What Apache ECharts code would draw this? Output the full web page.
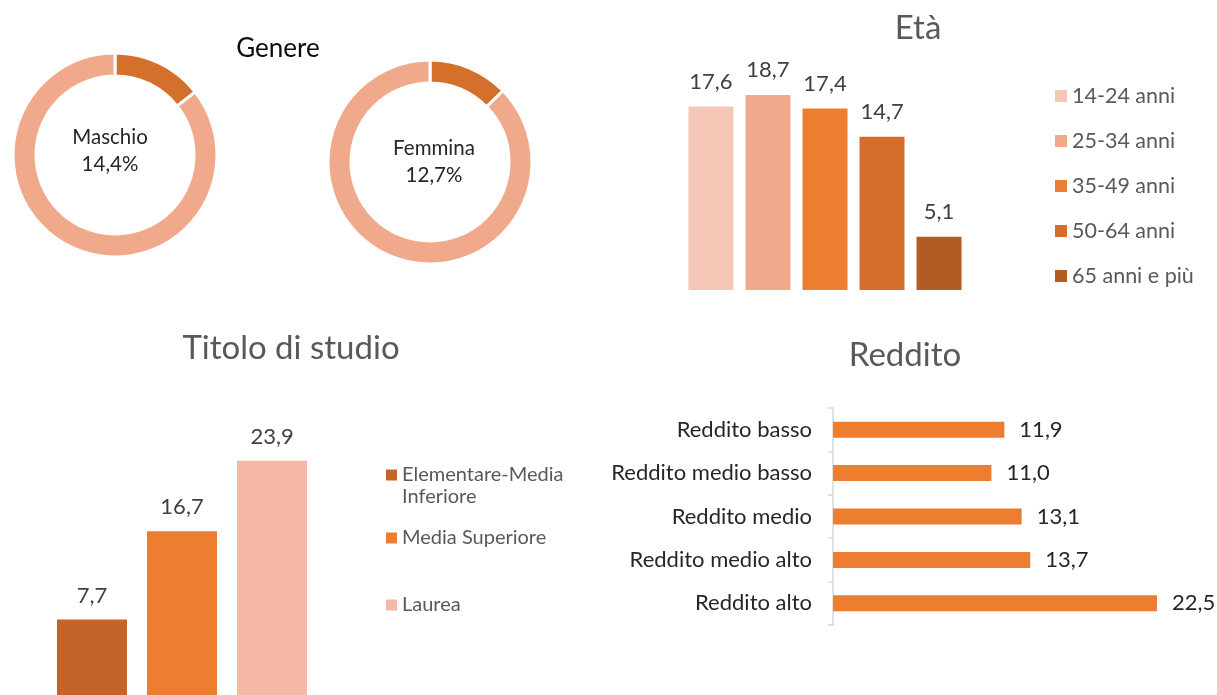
<!DOCTYPE html>
<html>
<head>
<meta charset="utf-8">
<script src="https://cdn.jsdelivr.net/npm/echarts@6/dist/echarts.min.js"></script>
<style>
  html, body { margin: 0; padding: 0; background: #fff; }
  #chart { width: 1217px; height: 695px; }
</style>
</head>
<body>
<div id="chart"></div>
<script>
// Genere
var genereNames = ['Maschio', 'Femmina'];
var genereValues = [14.4, 12.7];

// Età
var etaNames = ['14-24 anni', '25-34 anni', '35-49 anni', '50-64 anni', '65 anni e più'];
var etaValues = [17.6, 18.7, 17.4, 14.7, 5.1];
var etaColors = ['#F5C7B7', '#F1A98B', '#ED7D31', '#D46E2C', '#B25B22'];

// Titolo di studio
var studioNames = ['Elementare-Media Inferiore', 'Media Superiore', 'Laurea'];
var studioValues = [7.7, 16.7, 23.9];
var studioColors = ['#C46428', '#ED7D31', '#F4B8A4'];

// Reddito
var redditoNames = ['Reddito basso', 'Reddito medio basso', 'Reddito medio', 'Reddito medio alto', 'Reddito alto'];
var redditoValues = [11.9, 11.0, 13.1, 13.7, 22.5];

var FONT = 'Lato';
var labelColor = '#404040';
var titleColor = '#595959';

function fmt(v) {
    return v.toFixed(1).replace('.', ',');
}

var chart = echarts.init(document.getElementById('chart'));

var series = [];

// donuts
var donutCenters = [[115, 155], [430, 162]];
var donutLabelOffsets = [[-5, -4], [4, 0]];
genereNames.forEach(function (name, i) {
    series.push({
        type: 'pie',
        center: donutCenters[i],
        radius: [79, 102],
        startAngle: 90,
        clockwise: true,
        silent: true,
        itemStyle: { borderColor: '#fff', borderWidth: 3 },
        labelLine: { show: false },
        data: [
            {
                name: name, value: genereValues[i],
                itemStyle: { color: '#D4702C' },
                label: {
                    show: true, position: 'center',
                    formatter: function (p) { return p.name + '\n' + fmt(p.value) + '%'; },
                    fontFamily: FONT, fontSize: 20.5, lineHeight: 27, color: '#262626',
                    offset: donutLabelOffsets[i]
                }
            },
            {
                name: '', value: +(100 - genereValues[i]).toFixed(1),
                itemStyle: { color: '#F0A98A' },
                label: { show: false }
            }
        ]
    });
});

// Età bars
etaNames.forEach(function (name, i) {
    series.push({
        type: 'bar',
        name: name,
        xAxisIndex: 0, yAxisIndex: 0,
        barWidth: 45,
        barGap: '26.7%',
        itemStyle: { color: etaColors[i] },
        label: {
            show: true, position: 'top', distance: 14,
            formatter: function (p) { return fmt(p.value); },
            fontFamily: FONT, fontSize: 22, color: labelColor
        },
        data: [etaValues[i]]
    });
});

// Titolo di studio bars
studioNames.forEach(function (name, i) {
    series.push({
        type: 'bar',
        name: name,
        xAxisIndex: 1, yAxisIndex: 1,
        barWidth: 70,
        barGap: '28.6%',
        itemStyle: { color: studioColors[i] },
        label: {
            show: true, position: 'top', distance: 13,
            formatter: function (p) { return fmt(p.value); },
            fontFamily: FONT, fontSize: 22, color: labelColor
        },
        data: [studioValues[i]]
    });
});

// Reddito bars
series.push({
    type: 'bar',
    xAxisIndex: 2, yAxisIndex: 2,
    barWidth: 16,
    itemStyle: { color: '#ED7D31' },
    label: {
        show: true, position: 'right', distance: 15,
        formatter: function (p) { return fmt(p.value); },
        fontFamily: FONT, fontSize: 22, color: '#262626'
    },
    data: redditoValues
});

var titleStyle = { fontFamily: FONT, fontSize: 33, fontWeight: 'normal', color: titleColor };
var studioLegendText = { fontFamily: FONT, fontSize: 20, lineHeight: 24, color: titleColor };

var option = {
    backgroundColor: '#fff',
    animation: false,
    title: [
        { text: 'Genere', left: 278, top: 49, padding: 0, textAlign: 'center', textVerticalAlign: 'middle',
          textStyle: { fontFamily: FONT, fontSize: 26, fontWeight: 'normal', color: '#0d0d0d' } },
        { text: 'Età', left: 918, top: 28, padding: 0, textAlign: 'center', textVerticalAlign: 'middle',
          textStyle: titleStyle },
        { text: 'Titolo di studio', left: 291, top: 348, padding: 0, textAlign: 'center', textVerticalAlign: 'middle',
          textStyle: titleStyle },
        { text: 'Reddito', left: 905, top: 355, padding: 0, textAlign: 'center', textVerticalAlign: 'middle',
          textStyle: titleStyle },
        // second line of the first "Titolo di studio" legend entry
        { text: 'Inferiore', left: 402, top: 497, padding: 0, textVerticalAlign: 'middle',
          textStyle: { fontFamily: FONT, fontSize: 20, fontWeight: 'normal', color: titleColor } }
    ],
    legend: [
        {
            data: etaNames, orient: 'vertical', left: 1055, top: 85, padding: 0,
            icon: 'rect', itemWidth: 12, itemHeight: 12, itemGap: 23,
            selectedMode: false,
            textStyle: { fontFamily: FONT, fontSize: 21.5, lineHeight: 22, color: titleColor }
        },
        {
            data: [studioNames[0]], left: 386, top: 463, padding: 0,
            icon: 'rect', itemWidth: 11, itemHeight: 11,
            selectedMode: false,
            formatter: function () { return 'Elementare-Media'; },
            textStyle: studioLegendText
        },
        {
            data: [studioNames[1]], left: 386, top: 526, padding: 0,
            icon: 'rect', itemWidth: 11, itemHeight: 11,
            selectedMode: false,
            textStyle: studioLegendText
        },
        {
            data: [studioNames[2]], left: 386, top: 593, padding: 0,
            icon: 'rect', itemWidth: 11, itemHeight: 11,
            selectedMode: false,
            textStyle: studioLegendText
        }
    ],
    grid: [
        { left: 675, width: 300, top: 81.4, height: 208.6 },
        { left: 32, width: 300, top: 401, bottom: -2 },
        { left: 833, width: 360, top: 408, height: 217 }
    ],
    xAxis: [
        { type: 'category', gridIndex: 0, data: ['Età'], show: false },
        { type: 'category', gridIndex: 1, data: ['Titolo di studio'], show: false },
        { type: 'value', gridIndex: 2, min: 0, max: 25, show: false }
    ],
    yAxis: [
        { type: 'value', gridIndex: 0, min: 0, max: 20, show: false },
        { type: 'value', gridIndex: 1, min: 0, max: 30, show: false },
        {
            type: 'category', gridIndex: 2, data: redditoNames, inverse: true,
            axisLine: { show: true, lineStyle: { color: '#D9D9D9', width: 1.5 } },
            axisTick: { show: true, length: 5, lineStyle: { color: '#D9D9D9', width: 1.5 } },
            axisLabel: { margin: 21, fontFamily: FONT, fontSize: 22, color: '#262626' },
            splitLine: { show: false }
        }
    ],
    series: series
};

chart.setOption(option);
</script>
</body>
</html>
